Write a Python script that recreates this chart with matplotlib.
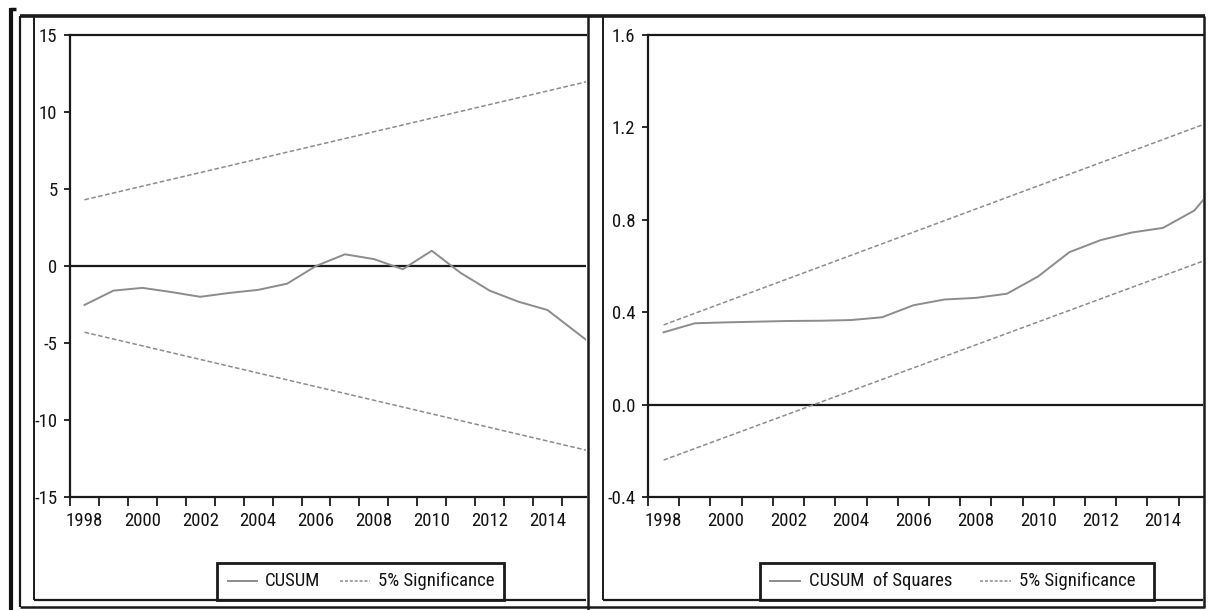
import matplotlib
matplotlib.use('Agg')
import matplotlib.pyplot as plt
from matplotlib.lines import Line2D
from matplotlib.patches import Rectangle
from matplotlib import font_manager

# ---------------- data ----------------
years = list(range(1998, 2017))
cusum = [-2.53, -1.60, -1.42, -1.69, -2.00, -1.75, -1.55, -1.15, 0.00, 0.76,
         0.45, -0.21, 0.99, -0.45, -1.60, -2.32, -2.86, -4.31, -5.76]
sig_years = [1998, 2016]
cusum_upper = [4.3, 12.25]
cusum_lower = [-4.3, -12.25]

cusumsq = [0.313, 0.352, 0.356, 0.359, 0.362, 0.363, 0.366, 0.378, 0.430, 0.455,
           0.462, 0.480, 0.555, 0.660, 0.712, 0.745, 0.765, 0.840, 1.000]
sq_upper = [0.345, 1.248]
sq_lower = [-0.24, 0.657]

tick_label_years = [1998, 2000, 2002, 2004, 2006, 2008, 2010, 2012, 2014]
left_yticks = [-15, -10, -5, 0, 5, 10, 15]
right_yticks = [-0.4, 0.0, 0.4, 0.8, 1.2, 1.6]
left_legend = ["CUSUM", "5% Significance"]
right_legend = ["CUSUM  of Squares", "5% Significance"]

# ---------------- style ----------------
W, H = 1208, 610
names = sorted({f.name for f in font_manager.fontManager.ttflist})
narrow = [n for n in names if ('Narrow' in n or 'Condensed' in n) and 'Mono' not in n and 'Serif' not in n]
pref = []
for cand in ['Liberation Sans Narrow', 'Arial Narrow', 'DejaVu Sans Condensed',
             'Roboto Condensed', 'Open Sans Condensed']:
    if cand in names:
        pref.append(cand)
pref += [n for n in narrow if n not in pref]
have_narrow = len(pref) > 0
plt.rcParams['font.family'] = pref + ['Liberation Sans', 'DejaVu Sans']
plt.rcParams['axes.unicode_minus'] = False
FS = 13.5 if have_narrow else 12
LINE_C = '#8c8c8c'
INK = '#1a1a1a'
TXT = '#141414'

fig = plt.figure(figsize=(W / 100, H / 100), dpi=100)
fig.patch.set_facecolor('white')

def fx(x):
    return x / W

def fy(y):
    return 1 - y / H

def pos(y):
    # EViews centres each annual observation in its year interval
    return [v + 0.5 for v in y]

def make_axes(x0, x1, xmax):
    ax = fig.add_axes([fx(x0), fy(497), fx(x1) - fx(x0), fy(35) - fy(497)])
    ax.set_xlim(1998, xmax)
    for s in ['left', 'bottom', 'top']:
        ax.spines[s].set_color(INK)
        ax.spines[s].set_linewidth(1.6)
    ax.spines['right'].set_visible(False)
    ax.set_xticks(list(range(1998, 2016)))
    ax.set_xticklabels([])
    ax.set_xticks([y + 0.5 for y in tick_label_years], minor=True)
    ax.set_xticklabels([str(y) for y in tick_label_years], minor=True)
    ax.tick_params(axis='x', which='major', direction='out', length=6.5, width=1.3, color=INK)
    ax.tick_params(axis='x', which='minor', length=0, pad=10.5, labelsize=FS, labelcolor=TXT)
    ax.tick_params(axis='y', which='major', direction='out', length=4, width=1.3, color=INK,
                   pad=5, labelsize=FS, labelcolor=TXT)
    ax.axhline(0, color=INK, lw=1.6, zorder=2)
    return ax

# left panel: CUSUM
ax1 = make_axes(70, 586, 2015.83)
ax1.set_ylim(-15, 15)
ax1.set_yticks(left_yticks)
ax1.set_yticklabels([str(v) for v in left_yticks])
ax1.plot(pos(years), cusum, color=LINE_C, lw=1.4, zorder=3)
ax1.plot(pos(sig_years), cusum_upper, color=LINE_C, lw=1.1, dashes=(3, 1.6), zorder=3)
ax1.plot(pos(sig_years), cusum_lower, color=LINE_C, lw=1.1, dashes=(3, 1.6), zorder=3)

# right panel: CUSUM of squares
ax2 = make_axes(648, 1203, 2015.78)
ax2.set_ylim(-0.4, 1.6)
ax2.set_yticks(right_yticks)
ax2.set_yticklabels([f"{v:.1f}" for v in right_yticks])
ax2.plot(pos(years), cusumsq, color=LINE_C, lw=1.4, zorder=3)
ax2.plot(pos(sig_years), sq_upper, color=LINE_C, lw=1.1, dashes=(3, 1.6), zorder=3)
ax2.plot(pos(sig_years), sq_lower, color=LINE_C, lw=1.1, dashes=(3, 1.6), zorder=3)

# ---------------- frames ----------------
def fline(xs, ys, lw=1.6, color=INK):
    fig.add_artist(Line2D([fx(x) for x in xs], [fy(y) for y in ys], lw=lw, color=color,
                          solid_capstyle='butt'))

fline([11, 11], [8, 610], lw=3.0, color='#111111')      # left bracket
fline([10, 16], [8.5, 8.5], lw=2.5, color='#111111')
fline([20, 1205], [16, 16], lw=2.6)                     # outer top
fline([20, 20], [16, 607], lw=1.6)                      # outer left
fline([20, 1205], [607, 607], lw=1.8)                   # outer bottom
fline([1204, 1204], [16, 607], lw=1.8)                  # outer right
fline([588, 588], [16, 610], lw=1.8)                    # divider
fline([34, 34], [16, 600], lw=1.4)                      # left inner
fline([34, 586], [600, 600], lw=1.6)
fline([603, 603], [16, 600], lw=1.4)                    # right inner
fline([603, 1203], [600, 600], lw=1.6)

# ---------------- legends ----------------
def legend_box(x0, x1, items, xs):
    fig.add_artist(Rectangle((fx(x0), fy(600)), fx(x1) - fx(x0), fy(563) - fy(600),
                             fill=False, edgecolor=INK, lw=2.0))
    yc = 581
    (s0, s1, t0), (d0, d1, t1) = xs
    fig.add_artist(Line2D([fx(s0), fx(s1)], [fy(yc), fy(yc)], color=LINE_C, lw=1.4))
    fig.text(fx(t0), fy(yc), items[0], fontsize=FS, color=TXT, va='center', ha='left')
    fig.add_artist(Line2D([fx(d0), fx(d1)], [fy(yc), fy(yc)], color=LINE_C, lw=1.1,
                          dashes=(2, 1.2)))
    fig.text(fx(t1), fy(yc), items[1], fontsize=FS, color=TXT, va='center', ha='left')

legend_box(217, 504, left_legend, [(228, 257, 265), (340, 370, 378)])
legend_box(760, 1154, right_legend, [(770, 800, 809), (980, 1011, 1019)])

fig.savefig('out.png', dpi=100, facecolor='white')
